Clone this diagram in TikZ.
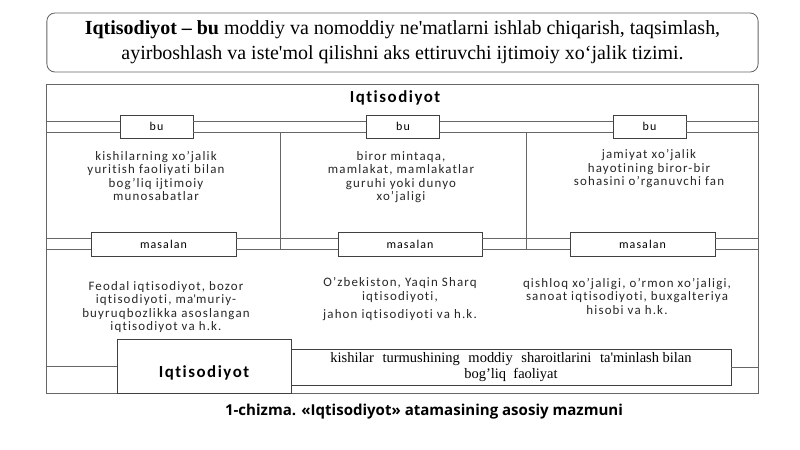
\documentclass[tikz,border=0pt]{standalone}
\usepackage{fontspec}
\setmainfont{Liberation Serif}
\newfontfamily\calfont[LetterSpace=9, Ligatures=NoCommon]{Carlito}
\newfontfamily\capfont{Open Sans}
\usetikzlibrary{positioning}
\usetikzlibrary{calc}

\begin{document}
\begin{tikzpicture}[x=0.025cm, y=-0.025cm, line width=0.6pt,
    frm/.style={draw=black!60, line width=0.7pt},
    b/.style={draw=black!75, fill=white, inner sep=0pt, font=\calfont\fontsize{8.5}{10}\selectfont},
    t/.style={align=center, inner sep=0pt, text=black!85, font=\calfont\fontsize{9.2}{9.6}\selectfont}]
    \useasboundingbox (0,0) rectangle (800,449);

    \node[draw=black!60, rounded corners=0.2cm, minimum width=17.775cm, minimum height=1.475cm, align=center,
        font=\fontsize{14.2}{18}\selectfont] (top) at (402.5,42.5)
        {\textbf{Iqtisodiyot – bu} moddiy va nomoddiy ne\textquotesingle matlarni ishlab chiqarish, taqsimlash,\\
        ayirboshlash va iste\textquotesingle mol qilishni aks ettiruvchi ijtimoiy xo‘jalik tizimi.};

    \node[frm, minimum width=17.775cm, minimum height=7.7cm] (frame) at (402.5,239) {};
    \node[font=\calfont\bfseries\fontsize{12}{14}\selectfont] (title) at (395,98) {Iqtisodiyot};

    \node[b, minimum width=1.825cm, minimum height=0.575cm] (bu1) at (156.5,126.5) {bu};
    \node[b, minimum width=1.825cm, minimum height=0.575cm] (bu2) at (403,126.5) {bu};
    \node[b, minimum width=1.825cm, minimum height=0.575cm] (bu3) at (649.5,126.5) {bu};

    \node[t] (def1) at (156,176) {kishilarning xo’jalik\\ yuritish faoliyati bilan\\ bog’liq ijtimoiy\\ munosabatlar};
    \node[t] (def2) at (401,177) {biror mintaqa,\\ mamlakat, mamlakatlar\\ guruhi yoki dunyo\\ xo’jaligi};
    \node[t] (def3) at (649,169) {jamiyat xo’jalik\\ hayotining biror-bir\\ sohasini o’rganuvchi fan};

    \node[b, minimum width=3.625cm, minimum height=0.6cm] (ms1) at (163.5,244) {masalan};
    \node[b, minimum width=3.6cm, minimum height=0.6cm] (ms2) at (410,244) {masalan};
    \node[b, minimum width=3.625cm, minimum height=0.6cm] (ms3) at (642.5,244) {masalan};

    \node[t] (ex1) at (166,307) {Feodal iqtisodiyot, bozor\\ iqtisodiyoti, ma\textquotesingle muriy-\\ buyruqbozlikka asoslangan\\ iqtisodiyot va h.k.};
    \node[t] (ex2) at (400,299) {O’zbekiston, Yaqin Sharq\\ iqtisodiyoti,\\[3pt] jahon iqtisodiyoti va h.k.};
    \node[t] (ex3) at (627,296) {qishloq xo’jaligi, o’rmon xo’jaligi,\\ sanoat iqtisodiyoti, buxgalteriya\\ hisobi va h.k.};

    \node[b, minimum width=4.35cm, minimum height=1.35cm,
        label={[yshift=-0.18cm, font=\calfont\bfseries\fontsize{12}{14}\selectfont]center:Iqtisodiyot}] (iq) at (204,366) {};
    \node[b, minimum width=11cm, minimum height=0.9cm,
        label={[yshift=0cm, align=center, font=\fontsize{10.3}{11}\selectfont]center:kishilar\hspace{0.6em}turmushining\hspace{0.6em}moddiy\hspace{0.6em}sharoitlarini\hspace{0.6em}ta\textquotesingle minlash bilan\\ bog’liq\hspace{0.5em}faoliyat}] (def) at (511,367) {};

    \node[font=\capfont\bfseries\fontsize{10.7}{12}\selectfont] (cap) at (424,412)
        {1-chizma. «Iqtisodiyot» atamasining asosiy mazmuni};

    % qo'sh chiziqlar
    \foreach \a/\b in {frame.west |- bu1/bu1.west, bu1.east/bu2.west, bu2.east/bu3.west, bu3.east/frame.east |- bu3}
        \draw[frm] ($(\a)+(0,-5.5)$) -- ($(\b)+(0,-5.5)$) ($(\a)+(0,5.5)$) -- ($(\b)+(0,5.5)$);
    \foreach \a/\b in {frame.west |- ms1/ms1.west, ms1.east/ms2.west, ms2.east/ms3.west, ms3.east/frame.east |- ms3}
        \draw[frm] ($(\a)+(0,-5.5)$) -- ($(\b)+(0,-5.5)$) ($(\a)+(0,5.5)$) -- ($(\b)+(0,5.5)$);

    \coordinate (v1) at (280,132);
    \coordinate (w1) at (280,249.5);
    \coordinate (v2) at (526,132);
    \coordinate (w2) at (526,249.5);
    \draw[frm] (v1) -- (w1) (v2) -- (w2);

    \draw[frm] (frame.west |- iq) -- (iq.west) (def.east) -- (frame.east |- def);
\end{tikzpicture}
\end{document}
